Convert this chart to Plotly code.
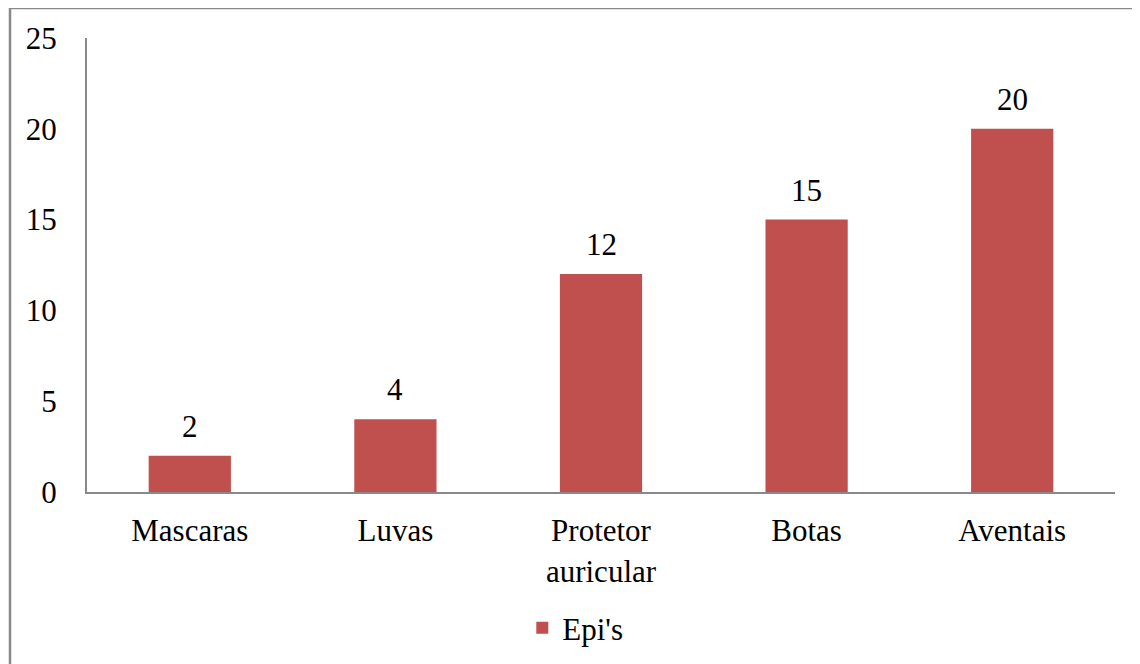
import plotly.graph_objects as go

categories = ["Mascaras", "Luvas", "Protetor<br>auricular", "Botas", "Aventais"]
values = [2, 4, 12, 15, 20]
series_name = "Epi's"
y_ticks = [0, 5, 10, 15, 20, 25]

W, H = 1140, 664
pw, ph = 1028, 454
L, T = 79, 30
R, B = W - L - pw, H - T - ph

font = dict(family="Liberation Serif, Times New Roman, serif", size=31, color="#000000")

fig = go.Figure()
fig.add_trace(go.Bar(
    x=categories, y=values, name=series_name,
    marker=dict(color="#C0504D", line=dict(width=0)),
    width=0.4,
))

for c, v in zip(categories, values):
    fig.add_annotation(x=c, y=v, text=str(v), showarrow=False,
                       yanchor="bottom", yshift=10, font=font)

fig.update_layout(
    width=W, height=H,
    margin=dict(l=L, r=R, t=T, b=B, pad=0),
    paper_bgcolor="white", plot_bgcolor="white",
    font=font,
    showlegend=True,
    legend=dict(orientation="h", x=0.475, xanchor="center",
                y=(0 - (628 - 492)) / ph, yanchor="middle",
                font=font, itemwidth=30),
    xaxis=dict(showline=True, linecolor="#898989", linewidth=2,
               ticks="", showgrid=False, tickfont=font, range=[-0.5, 4.5],
               ticklabelstandoff=10),
    yaxis=dict(showline=True, linecolor="#898989", linewidth=2,
               ticks="", showgrid=False, range=[0, 25],
               tickvals=y_ticks, tickfont=font, ticklabelstandoff=22),
    bargap=0.6,
)

fig.add_shape(type="rect", xref="paper", yref="paper",
              x0=(9 - 86) / pw, x1=1.2, y0=-0.6, y1=(492 - 8) / ph,
              line=dict(color="#898989", width=2.5), fillcolor="rgba(0,0,0,0)",
              layer="below")

fig.write_html("out.html")
